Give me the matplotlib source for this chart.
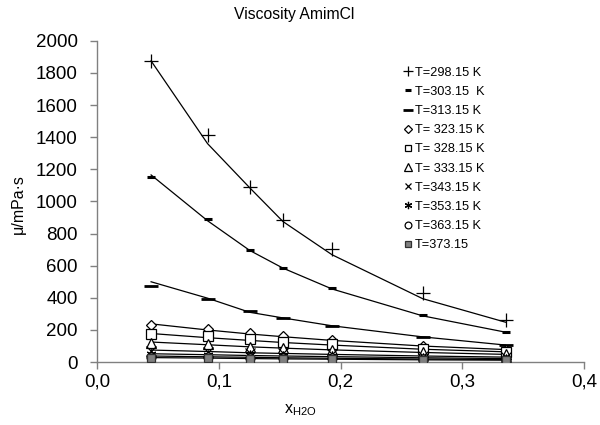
import numpy as np
import matplotlib
matplotlib.use('Agg')
from matplotlib import pyplot as plt
from matplotlib.ticker import FuncFormatter

plt.rcParams['font.family'] = ['Liberation Sans', 'DejaVu Sans']
plt.rcParams['mathtext.fontset'] = 'custom'
plt.rcParams['mathtext.rm'] = 'Liberation Sans'
plt.rcParams['mathtext.it'] = 'Liberation Sans'

# mole fraction of water
x_h2o = [0.0443, 0.0907, 0.1254, 0.1527, 0.1931, 0.2675, 0.3358]

etiquetas = ['T=298.15 K', 'T=303.15  K', 'T=313.15 K', 'T= 323.15 K',
             'T= 328.15 K', 'T= 333.15 K', 'T=343.15 K', 'T=353.15 K',
             'T=363.15 K', 'T=373.15']

# measured viscosities (mPa s)
mu_298 = [1877, 1414, 1090, 885, 702, 428, 262]
mu_303 = [1150, 891, 698, 588, 463, 293, 189]
mu_313 = [476, 394, 316, 274, 226, 154, 106]
mu_323 = [232, 206, 180, 165, 140, 102, 78]
mu_328 = [172, 160, 142, 128, 112, 80, 62]
mu_333 = [120, 112, 92, 85, 78, 62, 48]
mu_343 = [70, 64, 58, 54, 48, 40, 32]
mu_353 = [50, 45, 42, 38, 35, 28, 22]
mu_363 = [33, 31, 28, 26, 24, 20, 16]
mu_373 = [25, 23, 21, 19, 17, 14, 11]

# fitted curves
fit_298 = [1875, 1360, 1085, 875, 668, 395, 248]
fit_303 = [1165, 880, 695, 585, 455, 288, 186]
fit_313 = [500, 398, 310, 275, 226, 157, 106]
fit_323 = [238, 200, 175, 158, 135, 100, 78]
fit_328 = [178, 152, 135, 122, 106, 80, 64]
fit_333 = [125, 108, 95, 87, 76, 60, 48]
fit_343 = [75, 66, 58, 54, 48, 38, 31]
fit_353 = [52, 46, 41, 38, 34, 27, 22]
fit_363 = [38, 33, 30, 27, 24, 19, 16]
fit_373 = [28, 25, 22, 20, 18, 14, 12]

datos = [mu_298, mu_303, mu_313, mu_323, mu_328, mu_333, mu_343, mu_353, mu_363, mu_373]
ajustes = [fit_298, fit_303, fit_313, fit_323, fit_328, fit_333, fit_343, fit_353, fit_363, fit_373]

estilos = [
    dict(marker='+', ms=10, mew=0.9, mfc='none', mec='black'),
    dict(marker='_', ms=6, mew=2.2, mec='black'),
    dict(marker='_', ms=10, mew=2.0, mec='black'),
    dict(marker='D', ms=5.5, mew=0.9, mfc='white', mec='black'),
    dict(marker='s', ms=6.5, mew=0.9, mfc='white', mec='black'),
    dict(marker='^', ms=7, mew=0.9, mfc='white', mec='black'),
    dict(marker='x', ms=6.5, mew=0.9, mec='black'),
    dict(marker=(6, 2, 0), ms=7, mew=0.9, mec='black'),
    dict(marker='o', ms=6.5, mew=0.9, mfc='white', mec='black'),
    dict(marker='s', ms=5.5, mew=0.9, mfc='#808080', mec='#303030'),
]

fig = plt.figure(figsize=(6, 4.25), dpi=100)
ax = fig.add_axes([0.162, 0.148, 0.811, 0.756])

for d, f in zip(datos, ajustes):
    ax.plot(x_h2o, f, '-', color='black', lw=0.9, zorder=2)
for d, e, lab in zip(datos, estilos, etiquetas):
    ax.plot(x_h2o, d, ls='none', label=lab, zorder=3, **e)

ax.set_xlim(0, 0.4)
ax.set_ylim(0, 2000)
ax.set_xticks(np.arange(0, 0.41, 0.1))
ax.set_yticks(np.arange(0, 2001, 200))
ax.xaxis.set_major_formatter(FuncFormatter(lambda v, p: ('%.1f' % v).replace('.', ',')))

for s in ['top', 'right']:
    ax.spines[s].set_visible(False)
for s in ['left', 'bottom']:
    ax.spines[s].set_color('#808080')
    ax.spines[s].set_linewidth(1.0)
ax.tick_params(colors='#808080', labelcolor='black', labelsize=13.5, length=5, width=1.0)
ax.tick_params(axis='y', pad=9)
ax.tick_params(axis='x', pad=3)

fig.text(0.49, 0.965, 'Viscosity AmimCl', ha='center', va='center', fontsize=11.3)
fig.text(0.03, 0.52, 'μ/mPa·s', rotation=90, ha='center', va='center', fontsize=11.5)
fig.text(0.5, 0.035, r'x$_{\mathrm{H2O}}$', ha='center', va='center', fontsize=11.5)

leg = ax.legend(loc='upper left', bbox_to_anchor=(0.622, 0.935), frameon=False,
                fontsize=9.2, handlelength=0.5, handletextpad=0.3,
                labelspacing=0.56, borderaxespad=0, markerscale=0.75)

fig.savefig('out.png', dpi=100)
